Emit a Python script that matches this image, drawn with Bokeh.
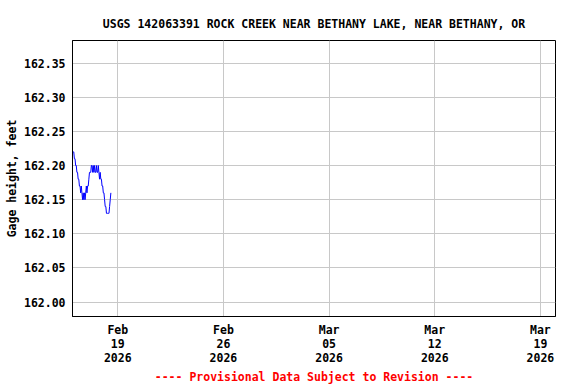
from datetime import datetime, timedelta
from bokeh.plotting import figure
from bokeh.models import Range1d, FixedTicker, PrintfTickFormatter, Title
from bokeh.embed import file_html
from bokeh.resources import INLINE

title_text = "USGS 142063391 ROCK CREEK NEAR BETHANY LAKE, NEAR BETHANY, OR"
y_label = "Gage height, feet"
footer_text = "---- Provisional Data Subject to Revision ----"

start = datetime(2026, 2, 16, 1, 0)
step_hours = 1
gage_ft = [162.22, 162.22, 162.21, 162.21, 162.20, 162.20, 162.19, 162.19, 162.18, 162.18,
           162.17, 162.17, 162.16, 162.17, 162.16, 162.15, 162.16, 162.15, 162.16, 162.15,
           162.16, 162.17, 162.16, 162.17, 162.17, 162.18, 162.19, 162.19, 162.19, 162.20,
           162.20, 162.19, 162.20, 162.19, 162.20, 162.19, 162.19, 162.20, 162.19, 162.19,
           162.20, 162.19, 162.18, 162.19, 162.18, 162.18, 162.17, 162.17, 162.16, 162.16,
           162.15, 162.14, 162.14, 162.13, 162.13, 162.13, 162.13, 162.13, 162.14, 162.15,
           162.16]
times = [start + timedelta(hours=step_hours * i) for i in range(len(gage_ft))]

x_tick_dates = [datetime(2026, 2, 19), datetime(2026, 2, 26), datetime(2026, 3, 5),
                datetime(2026, 3, 12), datetime(2026, 3, 19)]
x_tick_labels = ["Feb\n19\n2026", "Feb\n26\n2026", "Mar\n05\n2026", "Mar\n12\n2026", "Mar\n19\n2026"]
y_ticks = [162.00, 162.05, 162.10, 162.15, 162.20, 162.25, 162.30, 162.35]

FONT = "DejaVu Sans Mono"
FS = "11.5px"

p = figure(width=576, height=384, output_backend="svg", toolbar_location=None,
           x_axis_type="datetime",
           x_range=Range1d(datetime(2026, 2, 16), datetime(2026, 3, 20)),
           y_range=Range1d(161.979, 162.383),
           min_border_left=72, min_border_right=21, min_border_top=40, min_border_bottom=68)

p.title.text = title_text
p.title.align = "center"
p.title.text_color = "black"
p.title.text_font = FONT
p.title.text_font_size = FS
p.title.text_font_style = "bold"
p.title.text_line_height = 1.0
p.title.standoff = 20

p.add_layout(Title(text=footer_text, align="center", text_color="red", standoff=0,
                   text_font=FONT, text_font_size=FS, text_font_style="bold"), "below")

p.line(times, gage_ft, line_color="blue", line_width=1)

ms = [int(d.timestamp() * 1000) for d in x_tick_dates]
p.xaxis.ticker = FixedTicker(ticks=ms)
p.xaxis.major_label_overrides = {m: l for m, l in zip(ms, x_tick_labels)}
p.yaxis.ticker = FixedTicker(ticks=y_ticks)
p.yaxis.formatter = PrintfTickFormatter(format="%.2f")
p.yaxis.axis_label = y_label

for ax in (p.xaxis[0], p.yaxis[0]):
    ax.major_label_text_font = FONT
    ax.major_label_text_font_size = FS
    ax.major_label_text_font_style = "bold"
    ax.major_label_text_color = "black"
    ax.axis_label_text_font = FONT
    ax.axis_label_text_font_size = FS
    ax.axis_label_text_font_style = "bold"
    ax.axis_label_text_color = "black"
    ax.major_tick_in = 0
    ax.major_tick_out = 0
    ax.minor_tick_in = 0
    ax.minor_tick_out = 0
    ax.axis_line_color = "black"
p.xaxis.major_label_text_line_height = 1.0
p.yaxis.major_label_standoff = 7
p.yaxis.axis_label_standoff = 2
p.xaxis.major_label_standoff = 6

p.grid.grid_line_color = "#c8c8c8"
p.outline_line_color = "black"
p.outline_line_alpha = 1.0
p.background_fill_color = "white"
p.border_fill_color = "white"

open("out.html", "w").write(file_html(p, INLINE))
